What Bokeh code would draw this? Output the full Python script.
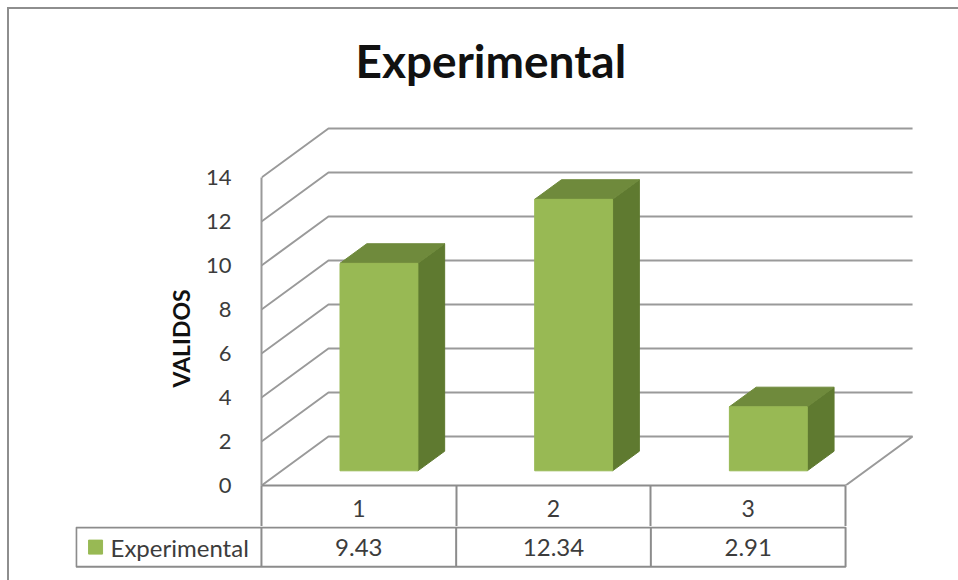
from bokeh.plotting import figure
from bokeh.models import FixedTicker, Range1d, Title
from bokeh.layouts import column
from bokeh.core.properties import value
from bokeh.embed import file_html
from bokeh.resources import INLINE

title_text = "Experimental"
axis_title = "VALIDOS"
series_name = "Experimental"
categories = ["1", "2", "3"]
values = [9.43, 12.34, 2.91]
y_ticks = [0, 2, 4, 6, 8, 10, 12, 14]

FONT = "Lato"
GRID = "#9a9a9a"
TABLE = "#8c8c8c"
TEXT = "#3c3c3c"
EDGE = "2px solid #8e8e8e"
FRONT, TOP, SIDE = "#98b954", "#6f8a3c", "#5f7a30"

# oblique projection of the 3D chart, in axis units
WALL_DX, WALL_DY = 0.344, 2.227
BAR_NEAR, BAR_FAR = 0.30, 0.70
BAR_WIDTH = 0.40
n = len(categories)
X_END = 3.58
Y_END = 17.5

p = figure(width=949, height=517, output_backend="svg", toolbar_location=None,
           x_range=Range1d(0, X_END), y_range=Range1d(0, Y_END),
           min_border_left=252, min_border_right=0, min_border_top=91, min_border_bottom=41,
           outline_line_color=None, background_fill_color="white", border_fill_color="white")
p.grid.visible = False

p.title.text = title_text
p.title.text_font = FONT
p.title.text_font_size = "46px"
p.title.text_font_style = "bold"
p.title.text_color = "#111111"
p.title.align = "left"
p.title.offset = 94
p.title.standoff = 26

ax = p.yaxis[0]
ax.ticker = FixedTicker(ticks=y_ticks)
ax.bounds = (y_ticks[0], y_ticks[-1])
ax.major_tick_line_color = None
ax.minor_tick_line_color = None
ax.axis_line_color = GRID
ax.axis_line_width = 2
ax.major_label_text_font = FONT
ax.major_label_text_font_size = "22px"
ax.major_label_text_color = TEXT
ax.major_label_standoff = 24

p.add_layout(Title(text=axis_title, align="left", offset=98, standoff=15,
                   text_font=FONT, text_font_size="23px", text_font_style="bold",
                   text_color="#111111"), "left")

bx = p.xaxis[0]
centers = [i + 0.5 for i in range(n)]
bx.ticker = FixedTicker(ticks=centers, minor_ticks=list(range(n + 1)))
bx.major_label_overrides = {c: lab for c, lab in zip(centers, categories)}
bx.bounds = (0, n)
bx.axis_line_color = TABLE
bx.axis_line_width = 2
bx.major_tick_line_color = None
bx.minor_tick_line_color = TABLE
bx.minor_tick_line_width = 2
bx.minor_tick_in = 0
bx.minor_tick_out = 41
bx.major_label_text_font = FONT
bx.major_label_text_font_size = "23px"
bx.major_label_text_color = TEXT
bx.major_label_standoff = -27

# walls and floor
for v in y_ticks:
    xs = [0, WALL_DX, n + WALL_DX]
    ys = [v, v + WALL_DY, v + WALL_DY]
    if v == 0:
        xs.append(n)
        ys.append(0)
    p.line(xs, ys, line_color=GRID, line_width=2)

# bars
for i, val in enumerate(values):
    xl = i + 0.5 - BAR_WIDTH / 2 + BAR_NEAR * WALL_DX
    xr = xl + BAR_WIDTH
    yb = BAR_NEAR * WALL_DY
    yt = yb + val
    ddx = (BAR_FAR - BAR_NEAR) * WALL_DX
    ddy = (BAR_FAR - BAR_NEAR) * WALL_DY
    p.patch([xr, xr + ddx, xr + ddx, xr], [yb, yb + ddy, yt + ddy, yt], color=SIDE)
    p.patch([xl, xr, xr + ddx, xl + ddx], [yt, yt, yt + ddy, yt + ddy], color=TOP)
    p.patch([xl, xr, xr, xl], [yb, yb, yt, yt], color=FRONT)

# data table row
X0 = -0.955
t = figure(width=949, height=54, output_backend="svg", toolbar_location=None,
           x_range=Range1d(X0, X_END), y_range=Range1d(-0.35, 1.025),
           min_border_left=66, min_border_right=0, min_border_top=0, min_border_bottom=0,
           outline_line_color=None, border_fill_color="white")
t.axis.visible = False
t.grid.visible = False
t.quad(left=[X0 + 0.004], right=[n], bottom=[0], top=[1], fill_color=None, line_color=TABLE, line_width=2)
t.segment(x0=list(range(n)), y0=[0] * n, x1=list(range(n)), y1=[1] * n, line_color=TABLE, line_width=2)
t.text(x=centers, y=[0.5] * n, text=[f"{v:.2f}" for v in values], text_font=value(FONT),
       text_font_size="24px", text_color=TEXT, text_align="center", text_baseline="middle")
t.scatter(x=[X0 + 0.103], y=[0.5], marker="square", size=14, color=FRONT)
t.text(x=[X0 + 0.18], y=[0.5], text=[series_name], text_font=value(FONT),
       text_font_size="24px", text_color=TEXT, text_align="left", text_baseline="middle")

chart = column(p, margin=(7, 0, 0, 7), styles={"border-left": EDGE, "border-top": EDGE})
table = column(t, margin=(0, 0, 0, 7), styles={"border-left": EDGE})
open("out.html", "w").write(file_html([chart, table], INLINE))
